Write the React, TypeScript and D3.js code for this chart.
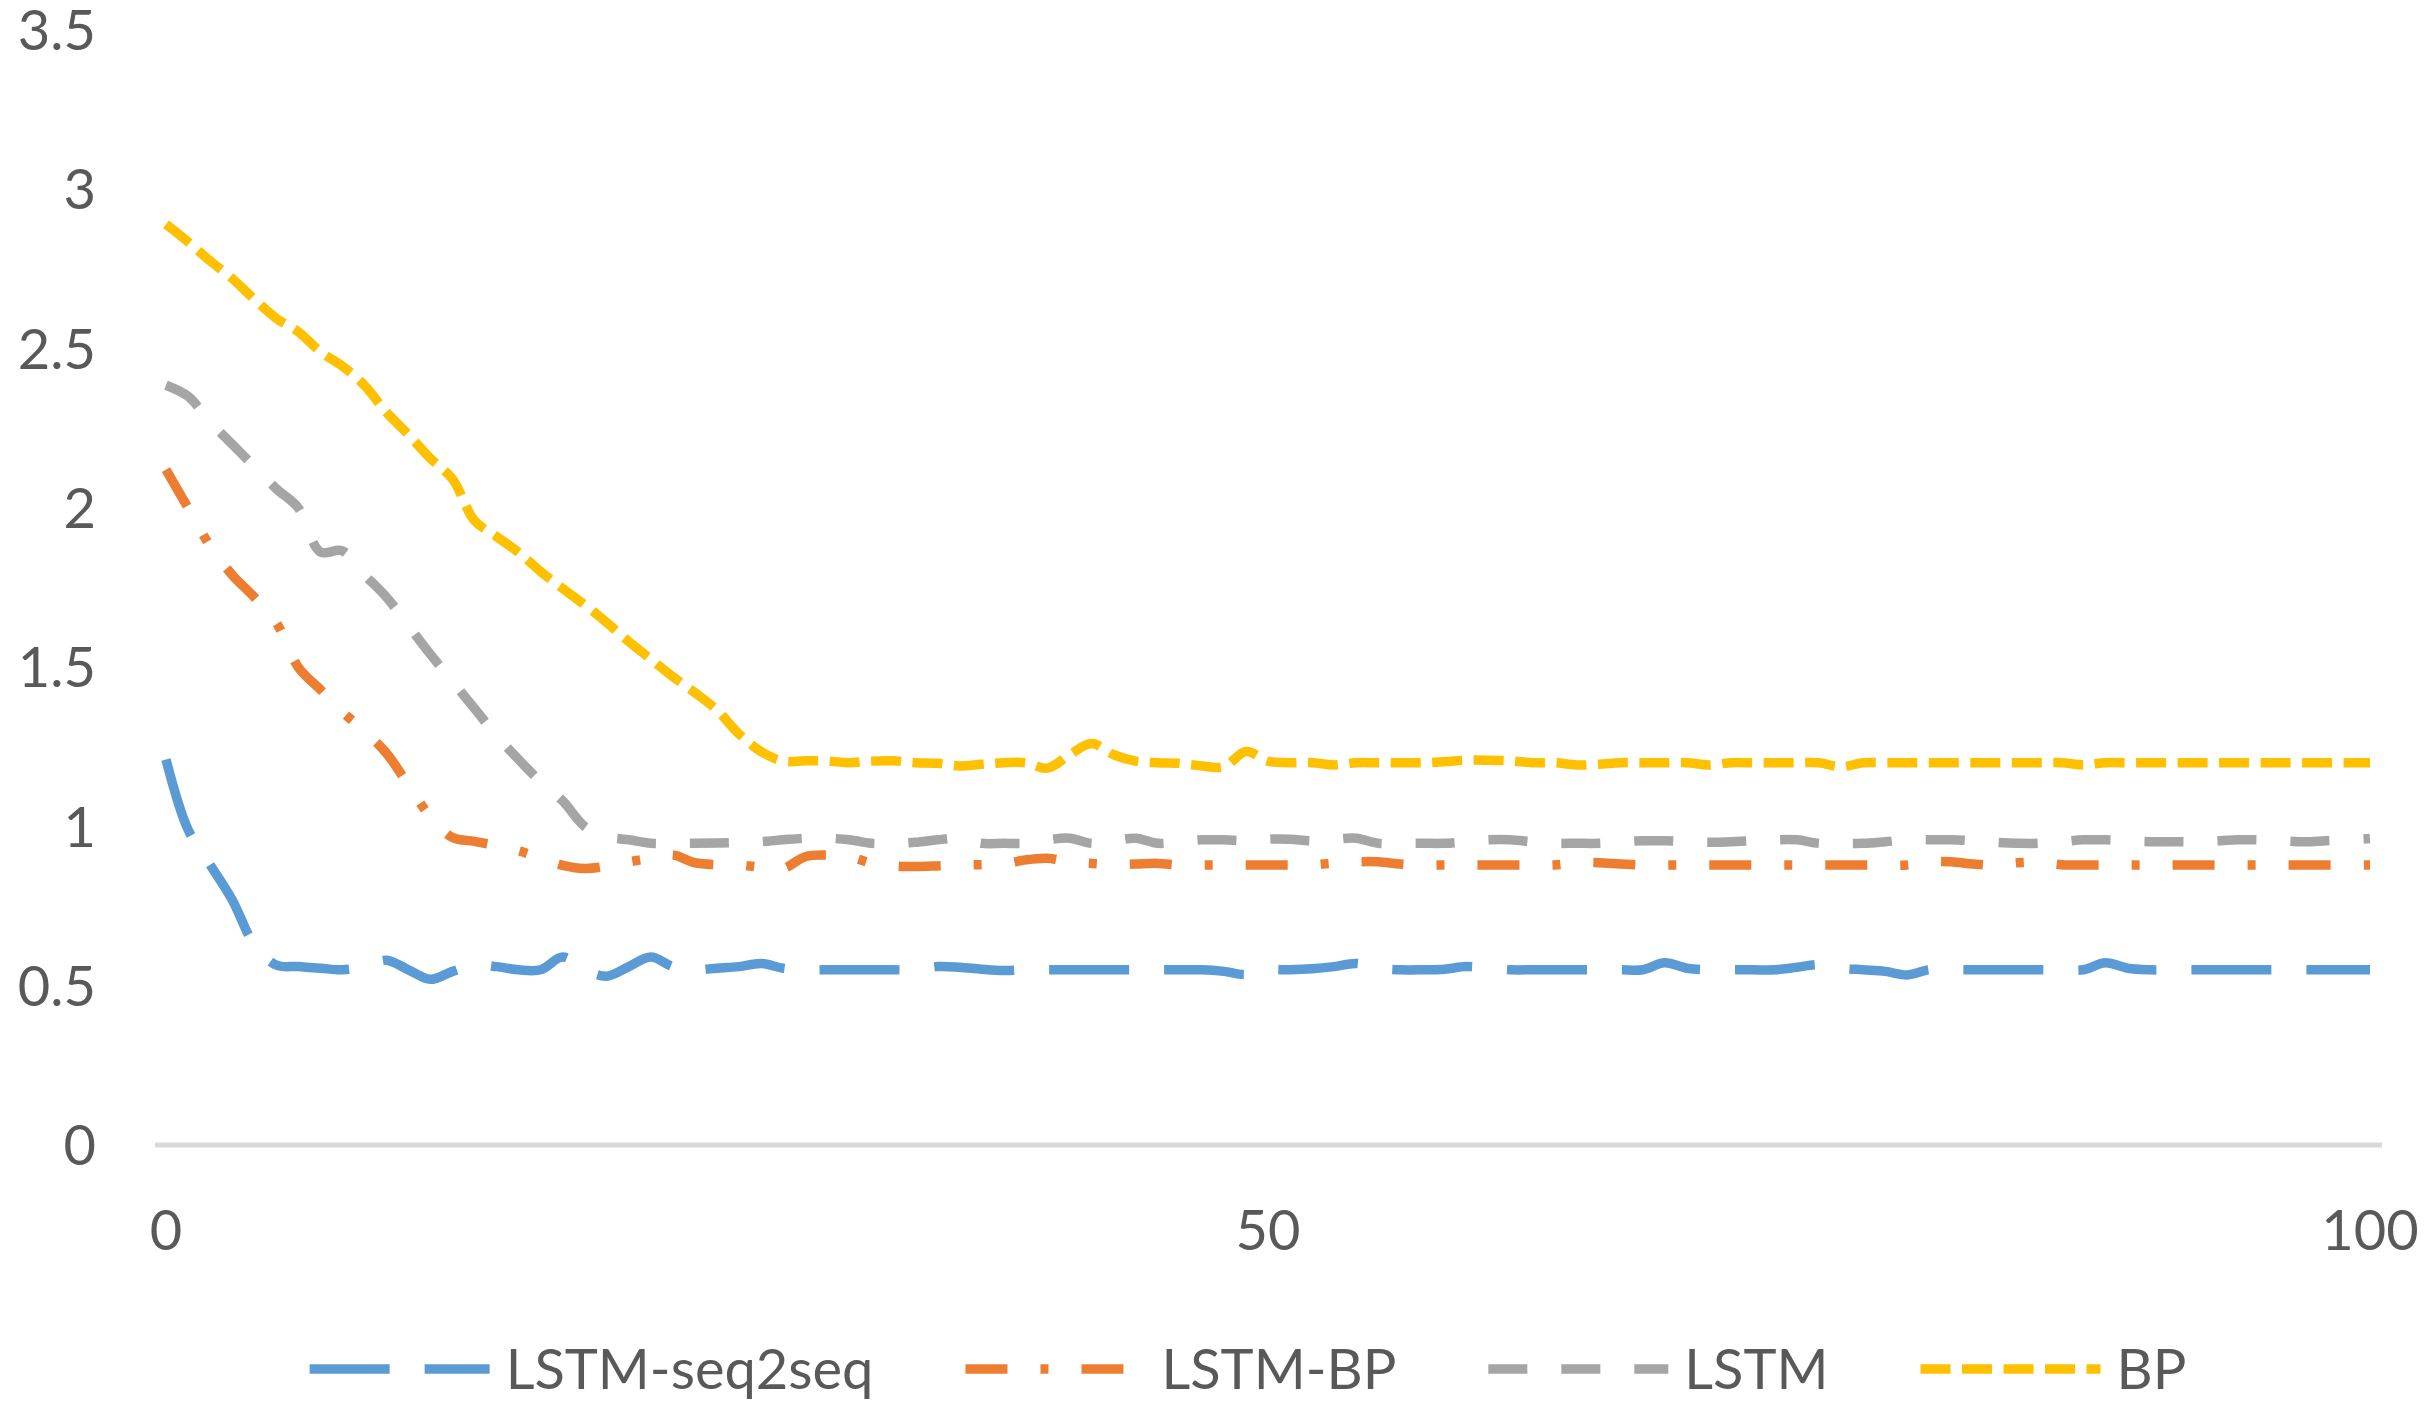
import React, { useEffect, useRef } from 'react';
import * as d3 from 'd3';

const W = 2433;
const H = 1406;
const margin = { top: 30, right: 63, bottom: 261, left: 166 };

// one value per epoch, epoch = index (0..100)
const seq2seq = [
  1.21, 0.99, 0.88, 0.77, 0.63, 0.565, 0.56, 0.555, 0.55, 0.56,
  0.58, 0.55, 0.52, 0.545, 0.565, 0.56, 0.55, 0.55, 0.59, 0.55,
  0.53, 0.56, 0.59, 0.56, 0.55, 0.555, 0.56, 0.57, 0.555, 0.55,
  0.55, 0.55, 0.55, 0.55, 0.55, 0.56, 0.558, 0.552, 0.548, 0.55,
  0.55, 0.55, 0.55, 0.55, 0.55, 0.55, 0.55, 0.55, 0.545, 0.535,
  0.55, 0.55, 0.553, 0.56, 0.57, 0.555, 0.55, 0.55, 0.552, 0.56,
  0.555, 0.55, 0.55, 0.55, 0.55, 0.55, 0.55, 0.55, 0.572, 0.555,
  0.55, 0.55, 0.55, 0.55, 0.558, 0.566, 0.555, 0.55, 0.545, 0.534,
  0.55, 0.55, 0.55, 0.55, 0.55, 0.55, 0.55, 0.55, 0.572, 0.555,
  0.55, 0.55, 0.55, 0.55, 0.55, 0.55, 0.55, 0.55, 0.55, 0.55, 0.55,
];

const lstmBp = [
  2.12, 2.0, 1.88, 1.79, 1.72, 1.64, 1.5, 1.43, 1.36, 1.3,
  1.23, 1.13, 1.03, 0.965, 0.953, 0.94, 0.924, 0.9, 0.878, 0.868,
  0.875, 0.889, 0.9, 0.91, 0.886, 0.88, 0.879, 0.872, 0.868, 0.905,
  0.91, 0.905, 0.885, 0.876, 0.874, 0.876, 0.879, 0.88, 0.882, 0.895,
  0.9, 0.888, 0.884, 0.88, 0.882, 0.884, 0.879, 0.879, 0.879, 0.879,
  0.879, 0.879, 0.879, 0.885, 0.889, 0.889, 0.882, 0.879, 0.879, 0.879,
  0.879, 0.879, 0.879, 0.879, 0.886, 0.886, 0.882, 0.879, 0.879, 0.879,
  0.879, 0.879, 0.879, 0.879, 0.879, 0.879, 0.879, 0.879, 0.879, 0.879,
  0.889, 0.889, 0.882, 0.879, 0.886, 0.888, 0.88, 0.879, 0.879, 0.879,
  0.879, 0.879, 0.879, 0.879, 0.879, 0.879, 0.879, 0.879, 0.879, 0.879, 0.879,
];

const lstm = [
  2.385, 2.35, 2.27, 2.2, 2.13, 2.06, 2.0, 1.862, 1.865, 1.79,
  1.72, 1.63, 1.54, 1.455, 1.37, 1.285, 1.21, 1.14, 1.08, 1.0,
  0.968, 0.958, 0.947, 0.947, 0.947, 0.948, 0.95, 0.952, 0.958, 0.963,
  0.963, 0.958, 0.947, 0.947, 0.95, 0.958, 0.963, 0.947, 0.947, 0.947,
  0.958, 0.963, 0.947, 0.955, 0.963, 0.947, 0.952, 0.958, 0.958, 0.955,
  0.96, 0.96, 0.955, 0.96, 0.963, 0.947, 0.947, 0.947, 0.947, 0.952,
  0.958, 0.958, 0.952, 0.947, 0.947, 0.947, 0.952, 0.955, 0.955, 0.952,
  0.95, 0.952, 0.955, 0.958, 0.958, 0.947, 0.947, 0.947, 0.952, 0.958,
  0.958, 0.958, 0.955, 0.95, 0.947, 0.947, 0.952, 0.958, 0.958, 0.955,
  0.952, 0.952, 0.952, 0.955, 0.958, 0.958, 0.955, 0.952, 0.955, 0.958, 0.962,
];

const bp = [
  2.89, 2.835, 2.775, 2.72, 2.655, 2.595, 2.553, 2.49, 2.445, 2.385,
  2.3, 2.23, 2.155, 2.09, 1.96, 1.91, 1.86, 1.8, 1.747, 1.695,
  1.64, 1.58, 1.525, 1.47, 1.42, 1.365, 1.29, 1.235, 1.205, 1.206,
  1.205, 1.2, 1.205, 1.206, 1.2, 1.198, 1.19, 1.195, 1.2, 1.2,
  1.183, 1.225, 1.26, 1.225, 1.205, 1.2, 1.198, 1.19, 1.187, 1.235,
  1.205, 1.2, 1.2, 1.193, 1.2, 1.2, 1.2, 1.2, 1.203, 1.208,
  1.208, 1.206, 1.2, 1.2, 1.193, 1.195, 1.2, 1.2, 1.2, 1.2,
  1.193, 1.2, 1.2, 1.2, 1.2, 1.2, 1.187, 1.2, 1.2, 1.2,
  1.2, 1.2, 1.2, 1.2, 1.2, 1.2, 1.2, 1.193, 1.2, 1.2,
  1.2, 1.2, 1.2, 1.2, 1.2, 1.2, 1.2, 1.2, 1.2, 1.2, 1.2,
];

const seriesNames = ['LSTM-seq2seq', 'LSTM-BP', 'LSTM', 'BP'];
const seriesValues = [seq2seq, lstmBp, lstm, bp];
const colors = ['#5B9BD5', '#ED7D31', '#A5A5A5', '#FFC000'];
const dashes = ['80 35', '42 33 8 33', '39 34', '30 11.5'];

const yTicks = [0, 0.5, 1, 1.5, 2, 2.5, 3, 3.5];
const xTicks = [0, 50, 100];

const font = 'Lato, "Open Sans", sans-serif';
const textColor = '#595959';

const App = () => {
  const ref = useRef<SVGSVGElement>(null);

  useEffect(() => {
    const svg = d3.select(ref.current);
    svg.selectAll('*').remove();

    const x = d3.scaleLinear().domain([0, 100]).range([margin.left, W - margin.right]);
    const y = d3.scaleLinear().domain([0, 3.5]).range([H - margin.bottom, margin.top]);

    // horizontal axis line
    svg.append('line')
      .attr('x1', x(0) - 11)
      .attr('x2', x(100) + 12)
      .attr('y1', y(0))
      .attr('y2', y(0))
      .attr('stroke', '#D9D9D9')
      .attr('stroke-width', 5);

    svg.append('g')
      .selectAll('text')
      .data(yTicks)
      .join('text')
      .attr('x', 96)
      .attr('y', (d) => y(d))
      .attr('dy', '0.36em')
      .attr('text-anchor', 'end')
      .attr('font-family', font)
      .attr('font-size', 56)
      .attr('fill', textColor)
      .text((d) => String(d));

    svg.append('g')
      .selectAll('text')
      .data(xTicks)
      .join('text')
      .attr('x', (d) => x(d))
      .attr('y', 1230)
      .attr('dy', '0.36em')
      .attr('text-anchor', 'middle')
      .attr('font-family', font)
      .attr('font-size', 56)
      .attr('fill', textColor)
      .text((d) => String(d));

    const line = d3.line<number>()
      .x((_, i) => x(i))
      .y((d) => y(d))
      .curve(d3.curveCatmullRom.alpha(0.5));

    seriesValues.forEach((values, i) => {
      svg.append('path')
        .datum(values)
        .attr('d', line)
        .attr('fill', 'none')
        .attr('stroke', colors[i])
        .attr('stroke-width', 9.5)
        .attr('stroke-dasharray', dashes[i])
        .attr('stroke-linejoin', 'round');
    });

    // legend, laid out by measured text width and centred
    const legend = svg.append('g');
    const ly = 1369;
    let cx = 0;
    seriesNames.forEach((name, i) => {
      legend.append('line')
        .attr('x1', cx)
        .attr('x2', cx + 180)
        .attr('y1', ly)
        .attr('y2', ly)
        .attr('stroke', colors[i])
        .attr('stroke-width', 9.5)
        .attr('stroke-dasharray', dashes[i]);
      const t = legend.append('text')
        .attr('x', cx + 196)
        .attr('y', ly)
        .attr('dy', '0.36em')
        .attr('font-family', font)
        .attr('font-size', 56)
        .attr('fill', textColor)
        .text(name);
      const tw = (t.node() as SVGTextElement).getComputedTextLength();
      cx += 196 + tw + (i < seriesNames.length - 1 ? 92 : 0);
    });
    legend.attr('transform', `translate(${1248 - cx / 2},0)`);
  }, []);

  return (
    <svg
      ref={ref}
      width={W}
      height={H}
      style={{ position: 'absolute', left: 0, top: 0, background: '#fff' }}
    />
  );
};

export default App;
